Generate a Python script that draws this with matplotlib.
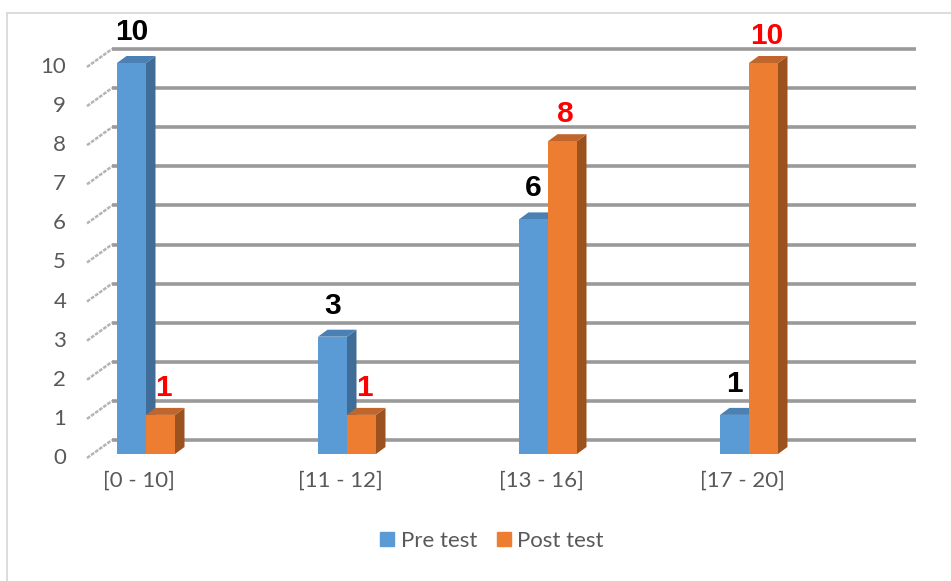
import numpy as np
import matplotlib
matplotlib.use("Agg")
import matplotlib.pyplot as plt
from matplotlib.patches import Polygon, Patch
from matplotlib.lines import Line2D
from matplotlib.transforms import IdentityTransform, ScaledTranslation

# data
categories = ["[0 - 10]", "[11 - 12]", "[13 - 16]", "[17 - 20]"]
pre_test = [10, 3, 6, 1]
post_test = [1, 1, 8, 10]
series_names = ["Pre test", "Post test"]
y_ticks = list(range(0, 11))

BLUE = ("#5B9BD5", "#3F6D98", "#4A80B4")     # front, side, top
ORANGE = ("#ED7D31", "#9C521F", "#C0652B")
GRID = "#9A9A9A"
TXT = "#595959"

DPI = 100
W, H = 951, 581
fig = plt.figure(figsize=(W / DPI, H / DPI), dpi=DPI)
ax = fig.add_axes([87 / W, (H - 454) / H, 804 / W, 391 / H])
ax.set_xlim(-0.2935, 3.7065)
ax.set_ylim(0, 10)
for s in ax.spines.values():
    s.set_visible(False)
ax.patch.set_visible(False)

# depth of bars and of back wall (pixels, display coords)
bdx, bdy = 9.5, 7
wdx, wdy = 25, 14

# back wall gridlines
wall = ax.get_yaxis_transform() + ScaledTranslation(wdx / DPI, wdy / DPI, fig.dpi_scale_trans)
for v in y_ticks:
    ax.plot([0, 1], [v, v], color=GRID, lw=2.6, transform=wall, zorder=1,
            clip_on=False, solid_capstyle="butt")
    # little dotted diagonal on the side wall
    px, py = ax.transData.transform((ax.get_xlim()[0], v))
    ax.add_line(Line2D([px, px + wdx], [py - 4, py + wdy], color="#B4B4B4", lw=1.8,
                       ls=(0, (1.5, 0.5)), transform=IdentityTransform(), clip_on=False, zorder=1))

x = np.arange(len(categories))
bw = 29 / 201


def bars3d(lefts, vals, cols, z):
    cont = ax.bar(lefts, vals, width=bw, align="edge", color=cols[0], zorder=z + 0.2)
    for r in cont:
        (x0, y0), (x1, y1) = ax.transData.transform(
            [(r.get_x(), 0), (r.get_x() + r.get_width(), r.get_height())])
        side = [(x1, y0), (x1, y1), (x1 + bdx, y1 + bdy), (x1 + bdx, y0 + bdy)]
        top = [(x0, y1), (x1, y1), (x1 + bdx, y1 + bdy), (x0 + bdx, y1 + bdy)]
        ax.add_patch(Polygon(side, closed=True, fc=cols[1], ec="none",
                             transform=IdentityTransform(), clip_on=False, zorder=z))
        ax.add_patch(Polygon(top, closed=True, fc=cols[2], ec="none",
                             transform=IdentityTransform(), clip_on=False, zorder=z + 0.1))
    return cont


bars3d(x - bw, pre_test, BLUE, 3)
bars3d(x, post_test, ORANGE, 4)

# value labels
for xi, v in zip(x - bw / 2, pre_test):
    ax.annotate(str(v), (xi, v), xytext=(0, 17), textcoords="offset pixels",
                ha="center", va="bottom", fontsize=21.5, fontweight="bold",
                family="Liberation Sans", color="black", zorder=6, annotation_clip=False)
for xi, v in zip(x + bw / 2, post_test):
    ax.annotate(str(v), (xi, v), xytext=(3, 13), textcoords="offset pixels",
                ha="center", va="bottom", fontsize=21.5, fontweight="bold",
                family="Liberation Sans", color="#FF0000", zorder=6, annotation_clip=False)

# axes ticks
ax.set_yticks(y_ticks)
ax.set_xticks(x)
ax.set_xticklabels(categories)
ax.tick_params(axis="both", length=0, labelsize=16, labelcolor=TXT)
ax.tick_params(axis="y", pad=15)
ax.tick_params(axis="x", pad=12)
for lab in ax.get_yticklabels() + ax.get_xticklabels():
    lab.set_family("Lato")
for lab in ax.get_xticklabels():
    lab.set_transform(lab.get_transform() + ScaledTranslation(-7 / DPI, 0, fig.dpi_scale_trans))
for lab in ax.get_yticklabels():
    lab.set_transform(lab.get_transform() + ScaledTranslation(0, -2 / DPI, fig.dpi_scale_trans))

# legend
handles = [Patch(color=BLUE[0]), Patch(color=ORANGE[0])]
leg = fig.legend(handles, series_names, loc="center", bbox_to_anchor=(492 / W, 1 - 541 / H),
                 ncol=2, frameon=False, handlelength=0.62, handleheight=0.62,
                 handletextpad=0.3, columnspacing=0.9,
                 prop={"family": "Lato", "size": 16})
for t in leg.get_texts():
    t.set_color(TXT)

# chart area border (top and left visible)
fig.add_artist(Line2D([6.5 / W, 6.5 / W], [0, 1 - 12.5 / H], color="#D9D9D9", lw=1.3))
fig.add_artist(Line2D([6.5 / W, 1], [1 - 12.5 / H, 1 - 12.5 / H], color="#D9D9D9", lw=1.3))

fig.savefig("out.png", dpi=DPI)
